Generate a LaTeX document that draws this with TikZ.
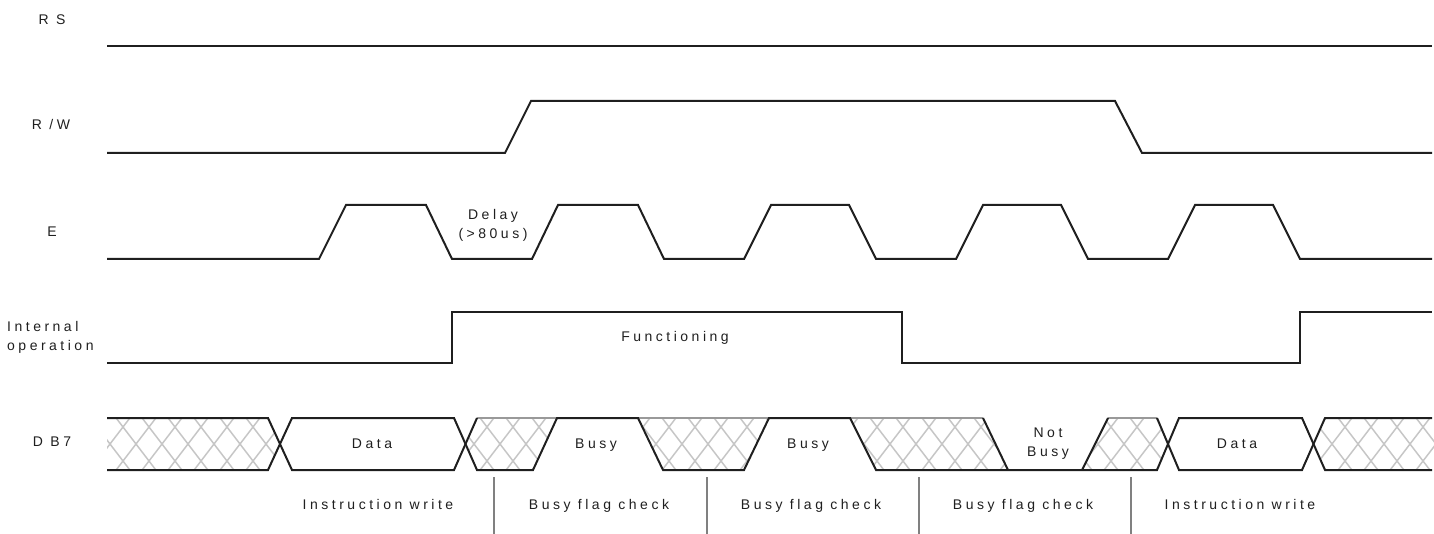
\documentclass[tikz,border=0pt]{standalone}
\usepackage{fontspec}
\setmainfont{Liberation Sans}[LetterSpace=25]
\begin{document}
\begin{tikzpicture}[x=1pt,y=-1pt,
  sig/.style={line width=2pt, draw=black!88, line join=miter},
  sigtop/.style={line width=2pt, draw=black!40},
  hatch/.style={line width=1.5pt, draw=gray!45},
  sep/.style={line width=1.2pt, draw=black!50},
  lbl/.style={font=\fontsize{14}{19}\selectfont, text=black!88, inner sep=0pt, align=center, text height=10pt, text depth=3pt}]
\useasboundingbox (0,0) rectangle (1434,534);

% labels
\node[lbl] (lrs) at (52,21) {R S};
\node[lbl] (lrw) at (51,126) {R /W};
\node[lbl] (le) at (52,233) {E};
\node[lbl, anchor=west, align=left] (lint) at (7,347) {Internal\\operation};
\node[lbl] (ldb) at (52,443) {D B7};

% RS
\draw[sig] (107,46) -- (1432,46);
% R/W
\draw[sig] (107,153) -- (505,153) -- (531,101) -- (1115,101) -- (1142,153) -- (1432,153);
% E
\draw[sig] (107,259) -- (319,259) -- (346,205) -- (426,205) -- (452,259) -- (532,259) -- (558,205) -- (638,205) -- (664,259)
  -- (744,259) -- (771,205) -- (849,205) -- (876,259) -- (956,259) -- (983,205) -- (1061,205) -- (1088,259)
  -- (1168,259) -- (1195,205) -- (1273,205) -- (1300,259) -- (1432,259);
\node[lbl] (ldelay) at (493,235) {Delay\\(>80us)};
% Internal operation
\draw[sig] (107,363) -- (452,363) -- (452,312) -- (902,312) -- (902,363) -- (1300,363) -- (1300,312) -- (1432,312);
\node[lbl] (lfun) at (675,338) {Functioning};

% DB7 hatching
\begin{scope}
\clip (107,418) -- (268,418) -- (280,444) -- (268,470) -- (107,470) -- cycle
      (465.5,444) -- (477,418) -- (557,418) -- (533,470) -- (477,470) -- cycle
      (638,418) -- (769,418) -- (744,470) -- (663,470) -- cycle
      (850,418) -- (983,418) -- (1008,470) -- (876,470) -- cycle
      (1082,470) -- (1108,418) -- (1157,418) -- (1168,444) -- (1157,470) -- cycle
      (1313.5,444) -- (1325,418) -- (1434,418) -- (1434,470) -- (1325,470) -- cycle;
\foreach \c in {6,32,...,1462} {
  \draw[hatch] (\c-26,478) -- (\c+26,410) (\c-26,410) -- (\c+26,478);
}
\end{scope}

% DB7 lines
\draw[sigtop] (477,418) -- (557,418) (638,418) -- (769,418) (850,418) -- (983,418) (1108,418) -- (1157,418);
\draw[sig] (107,418) -- (268,418) -- (292,470) -- (454,470) -- (477,418);
\draw[sig] (107,470) -- (268,470) -- (292,418) -- (454,418) -- (477,470) -- (533,470) -- (557,418) -- (638,418)
  -- (663,470) -- (744,470) -- (769,418) -- (850,418) -- (876,470) -- (1157,470) -- (1179,418) -- (1302,418)
  -- (1325,470) -- (1432,470);
\draw[sig] (983,418) -- (1008,470);
\draw[sig] (1082,470) -- (1108,418);
\draw[sig] (1157,418) -- (1179,470) -- (1302,470) -- (1325,418) -- (1432,418);

\node[lbl] (ld1) at (372,445) {Data};
\node[lbl] (lb1) at (596,445) {Busy};
\node[lbl] (lb2) at (808,445) {Busy};
\node[lbl] (lnb) at (1048,453) {Not\\Busy};
\node[lbl] (ld2) at (1237,445) {Data};

% separators
\coordinate (s1t) at (494,477); \coordinate (s1b) at (494,534);
\coordinate (s2t) at (707,477); \coordinate (s2b) at (707,534);
\coordinate (s3t) at (919,477); \coordinate (s3b) at (919,534);
\coordinate (s4t) at (1131,477); \coordinate (s4b) at (1131,534);
\draw[sep] (s1t) -- (s1b);
\draw[sep] (s2t) -- (s2b);
\draw[sep] (s3t) -- (s3b);
\draw[sep] (s4t) -- (s4b);

\node[lbl] (liw1) at (378,506) {Instruction write};
\node[lbl] (lbf1) at (599,506) {Busy flag check};
\node[lbl] (lbf2) at (811,506) {Busy flag check};
\node[lbl] (lbf3) at (1023,506) {Busy flag check};
\node[lbl] (liw2) at (1240,506) {Instruction write};
\end{tikzpicture}
\end{document}
